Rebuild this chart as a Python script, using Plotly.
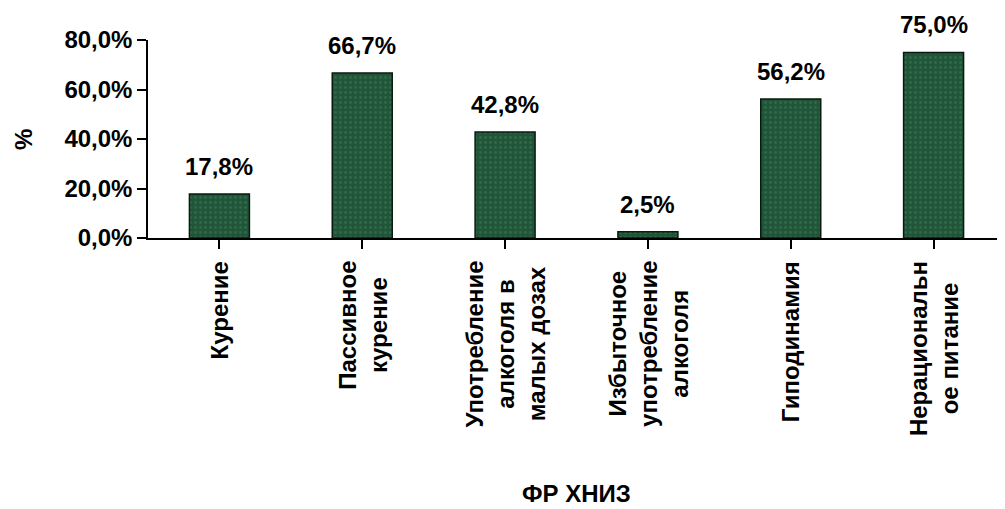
import plotly.graph_objects as go

categories = [
    "Курение",
    "Пассивное<br>курение",
    "Употребление<br>алкоголя в<br>малых дозах",
    "Избыточное<br>употребление<br>алкоголя",
    "Гиподинамия",
    "Нерациональн<br>ое питание",
]
values = [17.8, 66.7, 42.8, 2.5, 56.2, 75.0]
y_ticks = [0, 20, 40, 60, 80]
y_tick_labels = ["0,0%", "20,0%", "40,0%", "60,0%", "80,0%"]
x_title = "ФР ХНИЗ"
y_title = "%"

FONT = "Liberation Sans, Arial"
FS = 24
keys = list(range(len(categories)))

fig = go.Figure()
fig.add_trace(go.Bar(
    x=keys, y=values,
    marker=dict(color="#20553a", line=dict(color="#0a1a0e", width=1.5),
                pattern=dict(shape=".", fgcolor="#3f7d55", size=5, solidity=0.25)),
    hoverinfo="skip",
))

ann = []
for k, v in zip(keys, values):
    ann.append(dict(x=k, y=v, xref="x", yref="y", text=f"<b>{v:.1f}%</b>".replace(".", ","),
                    showarrow=False, yanchor="bottom", yshift=12,
                    font=dict(family=FONT, size=FS, color="black")))
for k, c in zip(keys, categories):
    ann.append(dict(x=k, y=0, xref="x", yref="paper", text=f"<b>{c}</b>",
                    showarrow=False, yanchor="top", xanchor="center", textangle=-90,
                    yshift=-21, align="center",
                    font=dict(family=FONT, size=FS, color="black")))
ann.append(dict(x=0.5, y=-1.288, xref="paper", yref="paper", text=f"<b>{x_title}</b>",
                showarrow=False, xanchor="center", yanchor="middle",
                font=dict(family=FONT, size=FS, color="black")))
ann.append(dict(x=-0.146, y=0.5, xref="paper", yref="paper", text=f"<b>{y_title}</b>",
                showarrow=False, xanchor="center", yanchor="middle", textangle=-90,
                font=dict(family=FONT, size=FS, color="black")))

fig.update_layout(
    width=997, height=501,
    margin=dict(l=140, r=0, t=32, b=271),
    paper_bgcolor="white", plot_bgcolor="white",
    bargap=0.58,
    showlegend=False,
    annotations=ann,
    font=dict(family=FONT, size=FS, color="black"),
)
fig.update_xaxes(
    range=[-0.5, len(categories) - 0.5],
    tickmode="array", tickvals=keys, ticktext=[""] * len(keys),
    tickson="boundaries", ticks="outside", ticklen=9, tickwidth=1.5, tickcolor="black",
    showline=True, linecolor="black", linewidth=1.5, showgrid=False, zeroline=False,
)
fig.update_yaxes(
    range=[0, 80], tickmode="array", tickvals=y_ticks,
    ticktext=[f"<b>{t}</b>" for t in y_tick_labels],
    ticks="outside", ticklen=9, tickwidth=1.5, tickcolor="black",
    showline=True, linecolor="black", linewidth=1.5, showgrid=False, zeroline=False,
    tickfont=dict(family=FONT, size=FS, color="black"),
)
fig.write_html("out.html")
